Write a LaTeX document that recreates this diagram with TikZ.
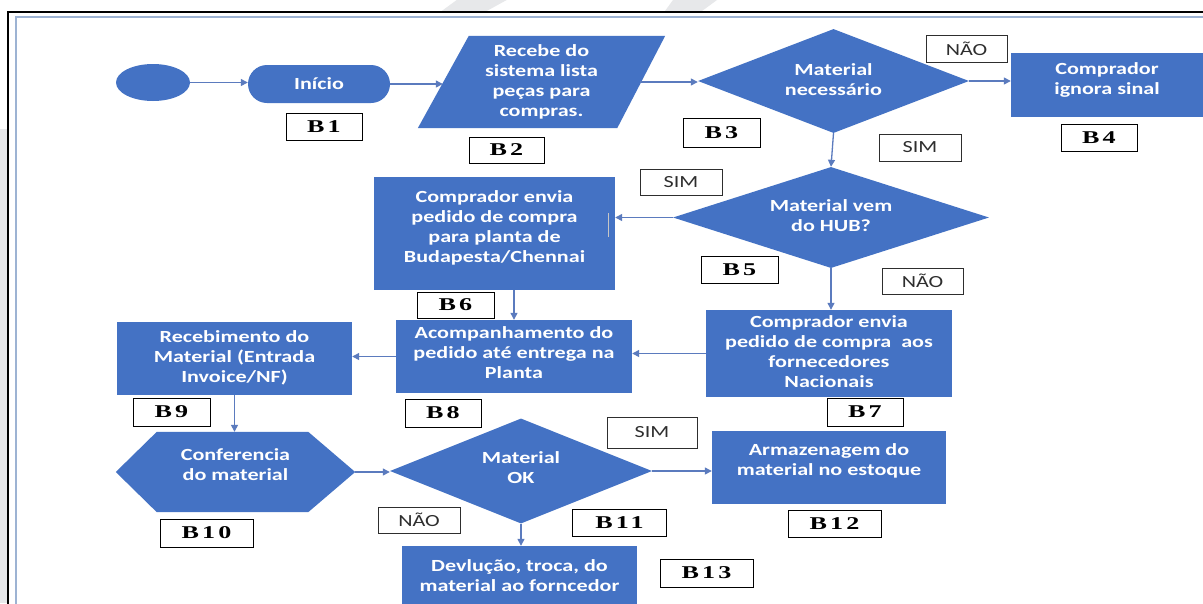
\documentclass[tikz,border=0pt]{standalone}
\usepackage{fontspec}
\setmainfont{Carlito}
\newfontfamily\labfont[LetterSpace=12]{Liberation Serif}
\usetikzlibrary{shapes.geometric,arrows.meta,calc,backgrounds}
\definecolor{boxblue}{HTML}{4472C4}
\definecolor{arrowc}{HTML}{5B7BBE}
\definecolor{framec}{HTML}{9DB3D3}
\definecolor{wmgray}{HTML}{E7E8EA}
\definecolor{tagc}{HTML}{2E2E2E}
\newcommand\tx[2][0pt]{\raisebox{#1}[\height][\depth]{\scalebox{1.3}[1]{\begin{tabular}{@{}c@{}}#2\end{tabular}}}}
\newcommand\lb[1]{\scalebox{1.45}[1]{\labfont\bfseries #1}}
\newcommand\yn[1]{\scalebox{1.3}[1]{#1}}
\tikzset{
  blk/.style={fill=boxblue, draw=none, text=white, inner sep=0pt,
    font=\fontsize{17}{20}\selectfont\bfseries},
  ghost/.style={draw=none, fill=none, text=white, inner sep=0pt,
    font=\fontsize{17}{20}\selectfont\bfseries},
  tagbox/.style={draw=black, line width=1pt, fill=white, inner sep=0pt,
    font=\fontsize{18}{20}\selectfont},
  ynbox/.style={draw=tagc, line width=1pt, fill=white, text=tagc, inner sep=0pt,
    font=\fontsize{17}{20}\selectfont},
  conn/.style={draw=arrowc, line width=1.3pt, -{Triangle[length=7pt,width=7pt]}},
}
\begin{document}
\begin{tikzpicture}[x=1pt,y=-1pt]
\useasboundingbox (0,0) rectangle (1203,603);
\begin{scope}[on background layer]
\fill[white] (0,0) rectangle (1203,603);
\end{scope}
\clip (0,0) rectangle (1203,603);
% page decoration
\fill[wmgray] (0,129) rectangle (7,603);
\fill[wmgray] (441.7,11) -- (486.7,11) -- (506.7,0) -- (456.7,0) -- cycle;
\fill[wmgray] (665,11) -- (702,11) -- (717,0) -- (673,0) -- cycle;
\draw[black, line width=2pt] (8,700) -- (8,12) -- (1300,12);
\draw[framec, line width=1.2pt] (16,700) -- (16,17) -- (1300,17);

% main shapes
\node[blk, ellipse, minimum width=74pt, minimum height=37pt] (start) at (153,82.5) {};
\node[blk, rounded corners=19pt, minimum width=142pt, minimum height=38pt] (inicio) at (319,84) {\tx[-1pt]{Início}};
\node[ghost, minimum width=197pt, minimum height=92pt] (p2) at (541.5,82) {\tx{Recebe do\\sistema lista\\peças para\\compras.}};
\node[blk, diamond, aspect=2.6, minimum width=271pt, minimum height=104pt] (d3) at (833.5,81) {\tx{Material\\necessário}};
\node[blk, minimum width=192pt, minimum height=64pt] (b4) at (1107,85) {\tx[5pt]{Comprador\\ignora sinal}};
\node[blk, diamond, aspect=3.1, minimum width=316pt, minimum height=101pt] (d5) at (831,217.5) {\tx{Material vem\\do HUB?}};
\node[blk, minimum width=241pt, minimum height=113pt] (b6) at (494.5,233.5) {\tx[5pt]{Comprador envia\\pedido de compra\\para planta de\\Budapesta/Chennai}};
\node[blk, minimum width=246pt, minimum height=87pt] (b7) at (829,353.5) {\tx{Comprador envia\\pedido de compra\ \ aos\\fornecedores\\Nacionais}};
\node[blk, minimum width=236pt, minimum height=73pt] (b8) at (514,356.5) {\tx[2pt]{Acompanhamento do\\pedido até entrega na\\Planta}};
\node[blk, minimum width=235pt, minimum height=73pt] (b9) at (234.5,358.5) {\tx{Recebimento do\\Material (Entrada\\Invoice/NF)}};
\node[ghost, minimum width=239pt, minimum height=80pt] (h10) at (235.5,472) {\tx[6pt]{Conferencia\\do material}};
\node[blk, diamond, aspect=2.5, minimum width=262pt, minimum height=105pt] (d11) at (521,471) {\tx[2pt]{Material\\OK}};
\node[blk, minimum width=234pt, minimum height=73pt] (b12) at (829,467.5) {\tx[6pt]{Armazenagem do\\material no estoque}};
\node[blk, minimum width=235pt, minimum height=62pt] (b13) at (519.5,577) {\tx{Devlução, troca, do\\material ao forncedor}};

\begin{scope}[on background layer]
\fill[boxblue] ($(p2.north west)+(26,0)$) -- ($(p2.north east)+(25,0)$) -- ($(p2.south east)+(-23,0)$) -- ($(p2.south west)+(-25,0)$) -- cycle;
\fill[boxblue] (h10.west) -- ($(h10.north west)+(41,0)$) -- ($(h10.north east)+(-47,0)$) -- (h10.east) -- ($(h10.south east)+(-47,0)$) -- ($(h10.south west)+(41,0)$) -- cycle;
\end{scope}

\draw[gray!45, line width=1pt] (608,213) -- (608,237);

% connectors
\draw[conn] (start.east) -- (start.east -| inicio.west);
\draw[conn] (inicio.east) -- (inicio.east -| p2.west);
\draw[conn] (p2.east) -- (p2.east -| d3.west);
\draw[conn] (d3.east) -- (d3.east -| b4.west);
\draw[conn] (d3.south) -- (d5.north);
\draw[conn] (d5.west) -- (d5.west -| b6.east);
\draw[conn] (d5.south) -- (d5.south |- b7.north);
\draw[conn] (b6.south -| b8.north) -- (b8.north);
\draw[conn] (b7.west) -- (b7.west -| b8.east);
\draw[conn] (b8.west) -- (b8.west -| b9.east);
\draw[conn] (b9.south) -- (b9.south |- h10.north);
\draw[conn] (h10.east) -- (h10.east -| d11.west);
\draw[conn] (d11.east) -- (d11.east -| b12.west);
\draw[conn] (d11.south) -- (d11.south |- b13.north);

% step labels
\node[tagbox, minimum width=76pt, minimum height=27pt] (l1) at (324,126.5) {\lb{B1}};
\node[tagbox, minimum width=75pt, minimum height=26pt] (l2) at (506.5,150) {\lb{B2}};
\node[tagbox, minimum width=77pt, minimum height=29pt] (l3) at (721.5,132.5) {\lb{B3}};
\node[tagbox, minimum width=76pt, minimum height=27pt] (l4) at (1099,137.5) {\lb{B4}};
\node[tagbox, minimum width=77pt, minimum height=27pt] (l5) at (739.5,269.5) {\lb{B5}};
\node[tagbox, minimum width=77pt, minimum height=26pt] (l6) at (455.5,305) {\lb{B6}};
\node[tagbox, minimum width=76pt, minimum height=28pt] (l7) at (865,412) {\lb{B7}};
\node[tagbox, minimum width=76pt, minimum height=28pt] (l8) at (443,413) {\lb{B8}};
\node[tagbox, minimum width=77pt, minimum height=28pt] (l9) at (171.5,412) {\lb{B9}};
\node[tagbox, minimum width=93pt, minimum height=28pt] (l10) at (206.5,533) {\lb{B10}};
\node[tagbox, minimum width=94pt, minimum height=27pt] (l11) at (619.5,523) {\lb{B11}};
\node[tagbox, minimum width=93pt, minimum height=27pt] (l12) at (834.5,523.5) {\lb{B12}};
\node[tagbox, minimum width=93pt, minimum height=28pt] (l13) at (706.5,573) {\lb{B13}};

% yes / no tags
\node[ynbox, minimum width=81pt, minimum height=27pt] (n1) at (966.5,48.5) {\yn{NÃO}\hspace{8pt}};
\node[ynbox, minimum width=82pt, minimum height=27pt] (s1) at (920,147.5) {\yn{SIM}\hspace{14pt}};
\node[ynbox, minimum width=82pt, minimum height=26pt] (s2) at (681,182) {\yn{SIM}\hspace{22pt}};
\node[ynbox, minimum width=81pt, minimum height=26pt] (n2) at (922.5,281) {\yn{NÃO}\hspace{8pt}};
\node[ynbox, minimum width=90pt, minimum height=31pt] (s3) at (652,432.5) {\yn{SIM}\hspace{24pt}};
\node[ynbox, minimum width=82pt, minimum height=26pt] (n3) at (419,520) {\yn{NÃO}\hspace{12pt}};
\end{tikzpicture}
\end{document}
